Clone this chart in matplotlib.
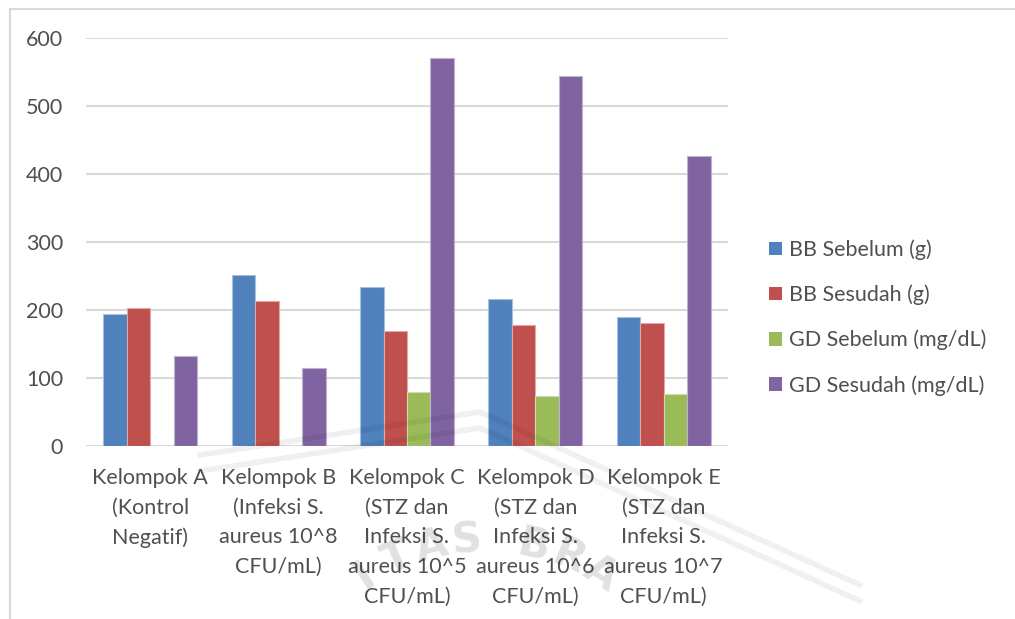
import matplotlib.pyplot as plt
import numpy as np
from matplotlib.patches import Patch, Rectangle
from matplotlib.lines import Line2D

# data
groups = [
    "Kelompok A\n(Kontrol\nNegatif)",
    "Kelompok B\n(Infeksi S.\naureus 10^8\nCFU/mL)",
    "Kelompok C\n(STZ dan\nInfeksi S.\naureus 10^5\nCFU/mL)",
    "Kelompok D\n(STZ dan\nInfeksi S.\naureus 10^6\nCFU/mL)",
    "Kelompok E\n(STZ dan\nInfeksi S.\naureus 10^7\nCFU/mL)",
]
series_names = ["BB Sebelum (g)", "BB Sesudah (g)", "GD Sebelum (mg/dL)", "GD Sesudah (mg/dL)"]
bb_sebelum = [194, 252, 234, 216, 190]
bb_sesudah = [203, 213, 169, 178, 181]
gd_sebelum = [0, 0, 79, 73, 76]
gd_sesudah = [133, 114, 571, 544, 426]
colors = ["#4F81BD", "#C0504D", "#9BBB59", "#8064A2"]
edges = ["#A7C0DE", "#E0A8A6", "#CDDDAC", "#BFB1D0"]

# faint watermark seal in the background of the screenshot
wm_text = "UNIVERSITAS BRAWIJAYA"

txt = "#505050"
fs = 15.5
plt.rcParams['font.family'] = ['Lato', 'DejaVu Sans']

W, H = 1015, 619
fig = plt.figure(figsize=(W / 100, H / 100), dpi=100)
ax = fig.add_axes([86 / W, 1 - 446 / H, (728 - 86) / W, (446 - 38) / H])

# outer chart frame (cut off at right and bottom like the screenshot)
fig.patches.append(Rectangle((10 / W, -0.1), 1.2, 1 - 9 / H + 0.1, transform=fig.transFigure,
                             fill=False, edgecolor="#D9D9D9", linewidth=1.5))

x = np.arange(len(groups))
bw = 0.183
all_vals = [bb_sebelum, bb_sesudah, gd_sebelum, gd_sesudah]
for i, vals in enumerate(all_vals):
    ax.bar(x + (i - 1.5) * bw, vals, bw, color=colors[i], edgecolor=edges[i],
           linewidth=0.8, zorder=3)

ax.set_xlim(-0.5, len(groups) - 0.5)
ax.set_ylim(0, 600)
ax.set_yticks(range(0, 601, 100))
ax.yaxis.grid(True, color="#D9D9D9", linewidth=1.5, zorder=0)
ax.set_axisbelow(True)
for s in ax.spines.values():
    s.set_visible(False)
ax.tick_params(axis='y', length=0, pad=16.5, labelsize=fs, labelcolor=txt)
ax.tick_params(axis='x', length=0, pad=16)
ax.set_xticks(x)
ax.set_xticklabels(groups, fontsize=fs, color=txt, linespacing=1.6, va='top')

handles = [Patch(facecolor=c, edgecolor='none') for c in colors]
fig.legend(handles, series_names, loc='center left', bbox_to_anchor=(769 / W, 1 - 317.5 / H),
           frameon=False, fontsize=fs, labelcolor=txt, handlelength=0.6, handleheight=0.6,
           handletextpad=0.35, labelspacing=1.14, borderpad=0, borderaxespad=0)

# watermark: curved letters and chevron bands, faint, on top
cx, cy, R = 484, 760, 220
step = 9.5
n_left = wm_text.index(" ")
for k, ch in enumerate(wm_text):
    if ch == " ":
        continue
    if k < n_left:
        ang = -4.4 - (n_left - 1 - k) * step
    else:
        ang = 13 + (k - n_left - 1) * step
    a = np.radians(ang)
    px = cx + R * np.sin(a)
    py = cy - R * np.cos(a)
    if py > 585:
        continue
    fig.text(px / W, 1 - py / H, ch, fontsize=30, fontweight='bold', color='#000000', alpha=0.12,
             rotation=-ang, ha='center', va='center', zorder=10, family='DejaVu Sans')
for off in (0, 16):
    xs = np.array([200, 480, 860])
    ys = np.array([455, 412, 585]) + off
    fig.lines.append(Line2D(xs / W, 1 - ys / H, transform=fig.transFigure, color='black',
                            alpha=0.06, linewidth=4, zorder=10))

fig.savefig("out.png", dpi=100)
